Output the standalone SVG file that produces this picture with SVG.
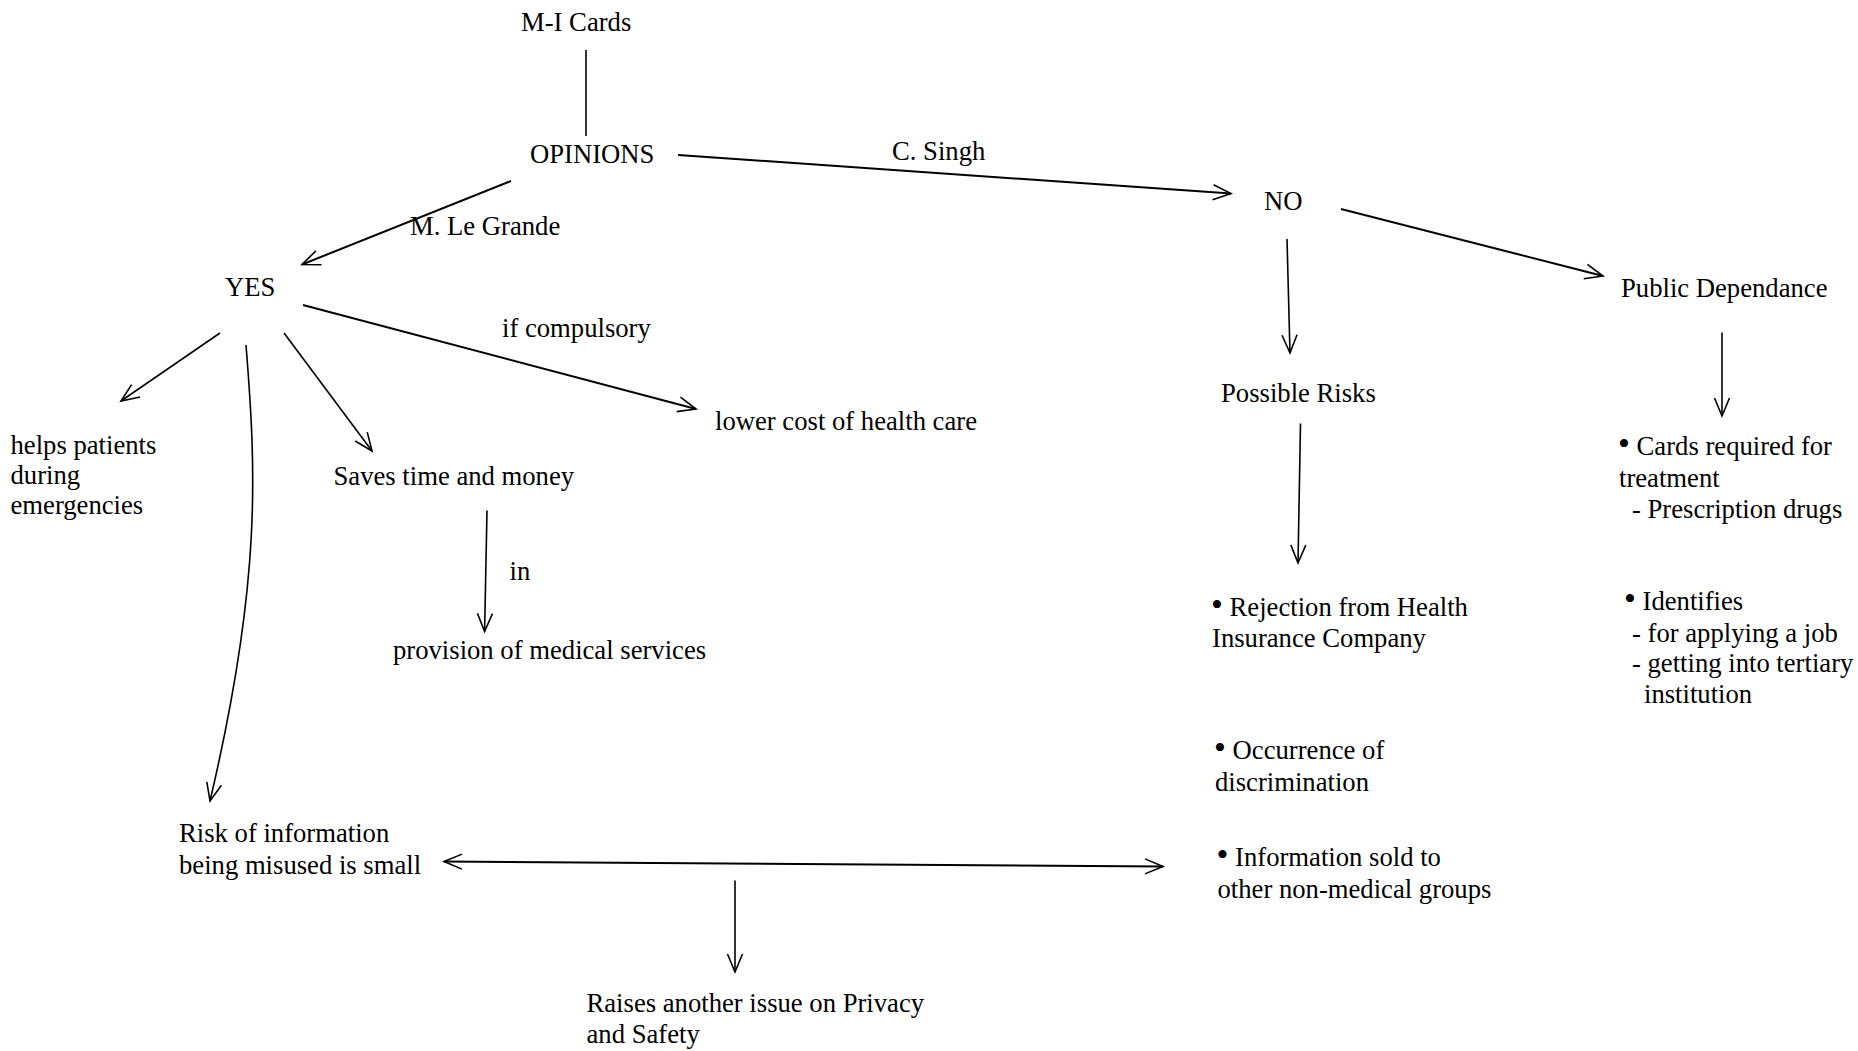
<svg xmlns="http://www.w3.org/2000/svg" width="1858" height="1051" viewBox="0 0 1858 1051">
<style>
text{font-family:"Liberation Serif","Times New Roman",serif;font-size:26.67px;fill:#000}
.b{font-size:34px}
.c{fill:none;stroke:#000;stroke-width:1.6}
.t{stroke-width:2}
</style>
<defs>
<marker id="arr" viewBox="-22 -12 26 24" refX="0" refY="0" markerWidth="26" markerHeight="24" markerUnits="userSpaceOnUse" orient="auto-start-reverse">
<path d="M-18,-7.5 L0,0 L-18,7.5" fill="none" stroke="#000" stroke-width="1.6"/>
</marker>
</defs>
<rect width="1858" height="1051" fill="#fff"/>
<g id="connectors">
<line class="c" x1="586" y1="50" x2="586" y2="136"/>
<line class="c t" x1="678" y1="155" x2="1231" y2="193.5" marker-end="url(#arr)"/>
<line class="c t" x1="511" y1="181" x2="302" y2="264.5" marker-end="url(#arr)"/>
<line class="c t" x1="303" y1="305" x2="696" y2="409" marker-end="url(#arr)"/>
<line class="c" x1="220" y1="333" x2="121" y2="401" marker-end="url(#arr)"/>
<line class="c" x1="284" y1="333" x2="372" y2="451" marker-end="url(#arr)"/>
<path class="c" d="M246,345 C256,470 262,580 210,801" marker-end="url(#arr)"/>
<line class="c" x1="487" y1="510.5" x2="484.6" y2="631.5" marker-end="url(#arr)"/>
<line class="c t" x1="444" y1="861.5" x2="1163" y2="866.5" marker-start="url(#arr)" marker-end="url(#arr)"/>
<line class="c" x1="735" y1="880.5" x2="735" y2="972" marker-end="url(#arr)"/>
<line class="c t" x1="1341" y1="209" x2="1603" y2="276" marker-end="url(#arr)"/>
<line class="c" x1="1287" y1="239" x2="1290" y2="353" marker-end="url(#arr)"/>
<line class="c" x1="1300.5" y1="423.5" x2="1298" y2="563" marker-end="url(#arr)"/>
<line class="c" x1="1722" y1="332.5" x2="1722" y2="416" marker-end="url(#arr)"/>
</g>
<g id="labels">
<text x="892" y="160">C. Singh</text>
<text x="410" y="235">M. Le Grande</text>
<text x="502" y="337">if compulsory</text>
<text x="509.5" y="579.5">in</text>
</g>
<g id="mi-cards"><text x="521" y="31">M-I Cards</text></g>
<g id="opinions"><text x="530" y="163">OPINIONS</text></g>
<g id="yes"><text x="225" y="296">YES</text></g>
<g id="no"><text x="1264" y="210">NO</text></g>
<g id="helps"><text x="10.5" y="453.5">helps patients</text><text x="10.5" y="483.5">during</text><text x="10.5" y="513.5">emergencies</text></g>
<g id="saves"><text x="333.5" y="485">Saves time and money</text></g>
<g id="lower-cost"><text x="715" y="429.5">lower cost of health care</text></g>
<g id="provision"><text x="393" y="659">provision of medical services</text></g>
<g id="risk-small"><text x="179" y="842">Risk of information</text><text x="179" y="873.5">being misused is small</text></g>
<g id="privacy"><text x="586.5" y="1011.5">Raises another issue on Privacy</text><text x="586.5" y="1043">and Safety</text></g>
<g id="public"><text x="1621" y="297">Public Dependance</text></g>
<g id="possible"><text x="1221" y="402">Possible Risks</text></g>
<g id="cards"><text x="1618" y="454.5"><tspan class="b">•</tspan> Cards required for</text><text x="1619" y="486.5">treatment</text><text x="1632" y="518">- Prescription drugs</text></g>
<g id="identifies"><text x="1624" y="609.5"><tspan class="b">•</tspan> Identifies</text><text x="1632" y="641.5">- for applying a job</text><text x="1632" y="671.5">- getting into tertiary</text><text x="1644" y="703">institution</text></g>
<g id="rejection"><text x="1211" y="616"><tspan class="b">•</tspan> Rejection from Health</text><text x="1212" y="647">Insurance Company</text></g>
<g id="occurrence"><text x="1214" y="758.5"><tspan class="b">•</tspan> Occurrence of</text><text x="1215" y="790.5">discrimination</text></g>
<g id="information"><text x="1216.5" y="866"><tspan class="b">•</tspan> Information sold to</text><text x="1217.5" y="897.5">other non-medical groups</text></g>
</svg>
